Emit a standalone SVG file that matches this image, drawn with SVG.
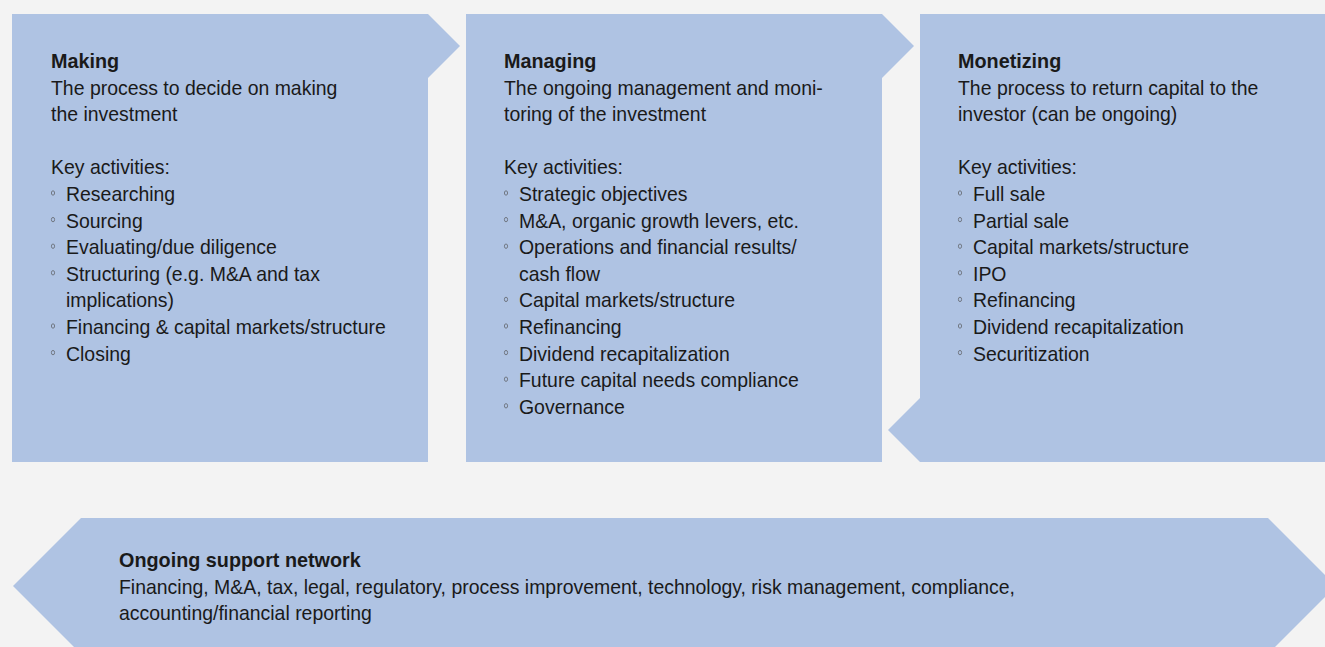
<svg xmlns="http://www.w3.org/2000/svg" width="1325" height="647" viewBox="0 0 1325 647">
<style>
.shape{fill:#afc3e3}
text{font-family:"Liberation Sans",Arial,sans-serif;font-size:19.45px;fill:#1a1a1a}
.b{font-weight:bold;font-size:19.8px}
.bul{fill:none;stroke:#6a6f78;stroke-width:0.9}
</style>
<rect x="0" y="0" width="1325" height="647" fill="#f3f3f3"/>
<g id="making">
<polygon class="shape" points="12,14 428,14 460,46 428,78 428,462 12,462"/>
<text x="51" y="68" class="b">Making</text>
<text x="51" y="94.6">The process to decide on making</text>
<text x="51" y="121.2">the investment</text>
<text x="51" y="174.4">Key activities:</text>
<g class="bul"><ellipse cx="53" cy="193" rx="1.6" ry="2.2"/><ellipse cx="53" cy="219.6" rx="1.6" ry="2.2"/><ellipse cx="53" cy="246.2" rx="1.6" ry="2.2"/><ellipse cx="53" cy="272.8" rx="1.6" ry="2.2"/><ellipse cx="53" cy="326" rx="1.6" ry="2.2"/><ellipse cx="53" cy="352.6" rx="1.6" ry="2.2"/></g>
<text x="66" y="201">Researching</text>
<text x="66" y="227.6">Sourcing</text>
<text x="66" y="254.2">Evaluating/due diligence</text>
<text x="66" y="280.8">Structuring (e.g. M&amp;A and tax</text>
<text x="66" y="307.4">implications)</text>
<text x="66" y="334">Financing &amp; capital markets/structure</text>
<text x="66" y="360.6">Closing</text>
</g>
<g id="managing">
<polygon class="shape" points="466,14 882,14 914,46 882,78 882,462 466,462"/>
<text x="504" y="68" class="b">Managing</text>
<text x="504" y="94.6">The ongoing management and moni-</text>
<text x="504" y="121.2">toring of the investment</text>
<text x="504" y="174.4">Key activities:</text>
<g class="bul"><ellipse cx="506" cy="193" rx="1.6" ry="2.2"/><ellipse cx="506" cy="219.6" rx="1.6" ry="2.2"/><ellipse cx="506" cy="246.2" rx="1.6" ry="2.2"/><ellipse cx="506" cy="299.4" rx="1.6" ry="2.2"/><ellipse cx="506" cy="326" rx="1.6" ry="2.2"/><ellipse cx="506" cy="352.6" rx="1.6" ry="2.2"/><ellipse cx="506" cy="379.2" rx="1.6" ry="2.2"/><ellipse cx="506" cy="405.8" rx="1.6" ry="2.2"/></g>
<text x="519" y="201">Strategic objectives</text>
<text x="519" y="227.6">M&amp;A, organic growth levers, etc.</text>
<text x="519" y="254.2">Operations and financial results/</text>
<text x="519" y="280.8">cash flow</text>
<text x="519" y="307.4">Capital markets/structure</text>
<text x="519" y="334">Refinancing</text>
<text x="519" y="360.6">Dividend recapitalization</text>
<text x="519" y="387.2">Future capital needs compliance</text>
<text x="519" y="413.8">Governance</text>
</g>
<g id="monetizing">
<polygon class="shape" points="920,14 1325,14 1325,462 920,462 888,430 920,398"/>
<text x="958" y="68" class="b">Monetizing</text>
<text x="958" y="94.6">The process to return capital to the</text>
<text x="958" y="121.2">investor (can be ongoing)</text>
<text x="958" y="174.4">Key activities:</text>
<g class="bul"><ellipse cx="960" cy="193" rx="1.6" ry="2.2"/><ellipse cx="960" cy="219.6" rx="1.6" ry="2.2"/><ellipse cx="960" cy="246.2" rx="1.6" ry="2.2"/><ellipse cx="960" cy="272.8" rx="1.6" ry="2.2"/><ellipse cx="960" cy="299.4" rx="1.6" ry="2.2"/><ellipse cx="960" cy="326" rx="1.6" ry="2.2"/><ellipse cx="960" cy="352.6" rx="1.6" ry="2.2"/></g>
<text x="973" y="201">Full sale</text>
<text x="973" y="227.6">Partial sale</text>
<text x="973" y="254.2">Capital markets/structure</text>
<text x="973" y="280.8">IPO</text>
<text x="973" y="307.4">Refinancing</text>
<text x="973" y="334">Dividend recapitalization</text>
<text x="973" y="360.6">Securitization</text>
</g>
<g id="support">
<polygon class="shape" points="81,518 1268,518 1336,586 1268,654 81,654 13,586"/>
<text x="119" y="567" class="b">Ongoing support network</text>
<text x="119" y="593.6">Financing, M&amp;A, tax, legal, regulatory, process improvement, technology, risk management, compliance,</text>
<text x="119" y="620.2">accounting/financial reporting</text>
</g>
<g id="connectors"></g>
</svg>
